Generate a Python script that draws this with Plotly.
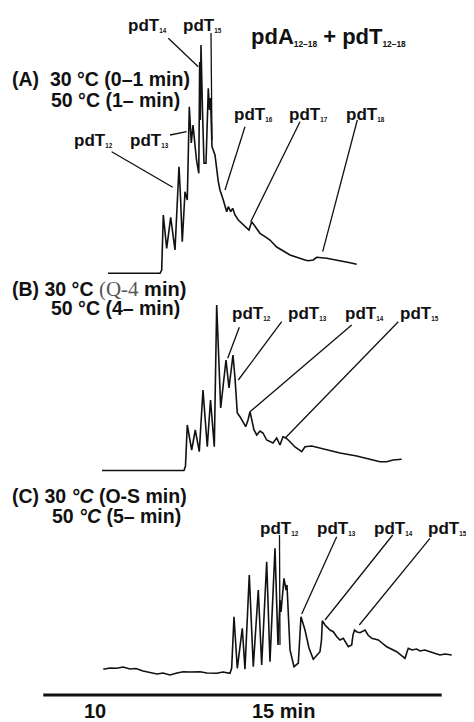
import plotly.graph_objects as go

# ---------------- DATA (retention time in min, detector signal in arbitrary units) ----------------
# Panel (A): 30 °C (0-1 min), 50 °C (1- min)
a_time = [10.387, 11.935, 11.985, 12.033, 12.134, 12.253, 12.381, 12.500, 12.539, 12.598,
          12.679, 12.747, 12.807, 12.866, 12.917, 13.021, 13.089, 13.116, 13.134, 13.155,
          13.199, 13.244, 13.304, 13.372, 13.408, 13.438, 13.482, 13.571, 13.670, 13.720,
          13.818, 13.869, 13.920, 13.967, 14.039, 14.098, 14.167, 14.265, 14.366, 14.515,
          14.583, 14.664, 14.762, 14.911, 15.060, 15.208, 15.408, 15.804, 16.250, 16.348,
          16.497, 16.598, 16.896, 17.193, 17.589, 17.789]
a_signal = [0, 0, 3.3, 58.3, 25, 56, 23.3, 106.6, 81.3, 31.6,
            81.6, 73.3, 166.6, 130.3, 148.3, 113.3, 100, 211.3, 153.3, 228.3,
            163.3, 110, 110, 185, 163.3, 175.3, 126.6, 118.3, 91.6, 83.3,
            73.3, 66.6, 61.6, 66.6, 61.6, 65, 58.3, 53.3, 50, 45,
            43.3, 51.6, 46.6, 40, 36.6, 33.3, 26.3, 18.3, 13.3, 12.6,
            13.3, 16, 15, 13.3, 10.6, 9]

# Panel (B): 30 °C (0-4 min), 50 °C (4- min)
b_time = [10.208, 12.649, 12.693, 12.747, 12.878, 12.985, 13.104, 13.214, 13.342, 13.438,
          13.551, 13.622, 13.741, 13.899, 13.988, 14.107, 14.167, 14.235, 14.315, 14.396,
          14.485, 14.554, 14.613, 14.732, 14.813, 14.911, 15.000, 15.110, 15.208, 15.298,
          15.408, 15.506, 15.595, 15.685, 15.804, 15.952, 16.152, 16.250, 16.449, 16.896,
          17.292, 17.789, 18.185, 18.482, 18.682, 18.869, 19.128]
b_signal = [0, 0, 4.5, 45.5, 20.5, 40.5, 18.8, 80.5, 23.8, 70.5,
            23.8, 165.5, 62.5, 110.5, 82.5, 115.5, 92.5, 57.5, 53.8, 48.8,
            43.8, 50.5, 58.8, 40.5, 35.5, 39.5, 37.5, 30.5, 28.5, 27.5,
            32.5, 25.5, 33.8, 32.5, 28.8, 23.5, 18.8, 23.8, 24.5, 20.5,
            17.5, 14.5, 11.5, 8.8, 8.8, 10.5, 11.2]

# Panel (C): 30 °C (0-5 min), 50 °C (5- min)
c_time = [10.247, 10.446, 10.646, 10.833, 11.042, 11.220, 11.429, 11.637, 11.845, 12.024,
          12.232, 12.440, 12.628, 12.827, 13.125, 13.333, 13.622, 13.810, 14.018, 14.068,
          14.137, 14.235, 14.384, 14.464, 14.592, 14.711, 14.860, 14.961, 15.110, 15.208,
          15.357, 15.446, 15.506, 15.536, 15.625, 15.685, 15.714, 15.804, 15.923, 16.051,
          16.131, 16.250, 16.369, 16.497, 16.607, 16.696, 16.741, 16.765, 16.845, 16.994,
          17.092, 17.202, 17.292, 17.390, 17.539, 17.640, 17.679, 17.723, 17.798, 17.887,
          18.036, 18.125, 18.235, 18.432, 18.542, 18.682, 18.979, 19.226, 19.286, 19.324,
          19.435, 19.574, 19.673, 19.821, 19.970, 20.119, 20.268, 20.417, 20.616]
c_signal = [2.7, 4, 3.7, 5, 3, 3.5, 1, -0.7, -2, -1,
            -3, -1, 0.3, 0, 0.3, -1, -1.3, 0, -1.3, 4,
            55.3, 3.7, 43.7, 2.7, 97, 5.3, 82, 7, 110.3, 10.3,
            123.7, 27, 72, 60, 93.7, 82, 87, 22, 5.3, 9,
            55.3, 42, 24, 12.7, 17, 20.3, 32, 51.3, 47, 42,
            40.3, 35, 32, 33.7, 25.3, 27, 37, 42, 40, 39.3,
            42, 37, 33.7, 32, 29, 25.3, 20.3, 13.7, 20, 23.7,
            22, 23, 21, 22, 20.3, 19, 17, 18, 17]

# Peak labels (oligomer lengths) per panel
a_peaks = ["12", "13", "14", "15", "16", "17", "18"]
b_peaks = ["12", "13", "14", "15"]
c_peaks = ["12", "13", "14", "15"]

# Leader-line targets on the traces (time, signal) per labelled peak
a_target_t = [12.313, 12.729, 13.074, 13.482, 13.869, 14.634, 16.777]
a_target_s = [86.0, 141.6, 206.6, 133.3, 83.3, 51.6, 21.6]
b_target_t = [13.949, 14.265, 14.613, 15.655]
b_target_s = [112.2, 90.5, 58.8, 32.2]
c_target_t = [15.506, 16.152, 16.845, 17.866]
c_target_s = [27.0, 58.0, 52.0, 47.0]

# Time-scale bar tick labels
scale_ticks = [10, 15]
scale_text = ["10", "15 min"]

# ---------------- LAYOUT ----------------
# the page body keeps its default 8 px margin, so the figure is 8 px smaller
X_RANGE = [7.411, 21.280]
Y_RANGE = [0, 714]
BASE = {"A": 448.7, "B": 251.5, "C": 50.0}
INK = "#111111"
FONT = "Liberation Sans, Arial, Helvetica, sans-serif"
COND_SIZE = 19.5

fig = go.Figure()
for key, t, s in (("A", a_time, a_signal), ("B", b_time, b_signal), ("C", c_time, c_signal)):
    fig.add_trace(go.Scatter(
        x=t, y=[BASE[key] + v for v in s], mode="lines",
        line=dict(color=INK, width=1.6, shape="linear"),
        hoverinfo="skip", showlegend=False))

shapes = []
annotations = []


def lbl(text, x, y, size=17, xanchor="center", yanchor="middle"):
    annotations.append(dict(
        text=text, x=x, y=y, xref="x", yref="y", showarrow=False,
        xanchor=xanchor, yanchor=yanchor,
        font=dict(family=FONT, size=size, color=INK)))


def pd_label(n):
    return f"<b>pdT<span style='font-size:9px'><sub>{n}</sub></span></b>"


def leader(t0, s0, t1, s1, base):
    shapes.append(dict(type="line", xref="x", yref="y",
                       x0=t0, y0=base + s0, x1=t1, y1=base + s1,
                       line=dict(color=INK, width=1.3)))


# Panel A labels
a_label_t = [9.955, 11.637, 11.548, 13.199, 14.717, 16.354, 18.036]
a_label_s = [133.3, 133.3, 248.3, 248.3, 159.3, 159.3, 159.3]
a_lead_t = [10.497, 12.232, 12.182, 13.452, 14.464, 16.101, 17.807]
a_lead_s = [121.6, 138.3, 235.0, 240.3, 146.6, 151.6, 153.3]
for i, n in enumerate(a_peaks):
    lbl(pd_label(n), a_label_t[i], BASE["A"] + a_label_s[i])
    leader(a_lead_t[i], a_lead_s[i], a_target_t[i], a_target_s[i], BASE["A"])

lbl("<b>pdA<span style='font-size:12px'><sub>12–18</sub></span> + pdT<span style='font-size:12px'><sub>12–18</sub></span></b>",
    16.964, BASE["A"] + 237.3, size=22)
lbl("<b>(A)  30 °C (0–1 min)</b>", 7.470, BASE["A"] + 194.3, size=COND_SIZE, xanchor="left")
lbl("<b>50 °C (1– min)</b>", 8.631, BASE["A"] + 173.3, size=COND_SIZE, xanchor="left")

# Panel B labels
b_label_t = [14.643, 16.339, 18.021, 19.658]
b_lead_t = [14.295, 15.557, 17.640, 19.027]
b_lead_s = [143.2, 148.8, 145.5, 148.8]
for i, n in enumerate(b_peaks):
    lbl(pd_label(n), b_label_t[i], BASE["B"] + 157.5)
    leader(b_lead_t[i], b_lead_s[i], b_target_t[i], b_target_s[i], BASE["B"])

lbl("<b>(B) 30 °C </b><span style='font-family:Liberation Serif, Times New Roman, serif;font-weight:normal;color:#555555;font-size:21px'>(Q-4</span><b><span style='font-size:20px'> min)</span></b>",
    7.470, BASE["B"] + 182.0, size=COND_SIZE, xanchor="left")
lbl("<b>50 °C (4– min)</b>", 8.631, BASE["B"] + 162.5, size=COND_SIZE, xanchor="left")

# Panel C labels
c_label_t = [15.506, 17.188, 18.884, 20.480]
c_lead_t = [15.491, 17.193, 18.860, 19.970]
c_lead_s = [137.0, 135.3, 137.0, 133.7]
for i, n in enumerate(c_peaks):
    lbl(pd_label(n), c_label_t[i], BASE["C"] + 144.0)
    leader(c_lead_t[i], c_lead_s[i], c_target_t[i], c_target_s[i], BASE["C"])

lbl("<b>(C) 30 <i>°C</i> (O-S min)</b>", 7.470, BASE["C"] + 176.0, size=COND_SIZE, xanchor="left")
lbl("<b>50 <i>°C</i> (5– min)</b>", 8.661, BASE["C"] + 156.0, size=COND_SIZE, xanchor="left")

# Time-scale bar
shapes.append(dict(type="line", xref="x", yref="y", x0=8.461, x1=20.318, y0=27, y1=27,
                   line=dict(color=INK, width=3)))
lbl("<b>" + scale_text[0] + "</b>", scale_ticks[0], 11, size=20)
lbl("<b>" + scale_text[1] + "</b>", scale_ticks[1] - 0.39, 11, size=20, xanchor="left")

fig.update_layout(
    width=466, height=714,
    margin=dict(l=0, r=0, t=0, b=0),
    paper_bgcolor="white", plot_bgcolor="white",
    xaxis=dict(range=X_RANGE, visible=False, fixedrange=True),
    yaxis=dict(range=Y_RANGE, visible=False, fixedrange=True),
    shapes=shapes, annotations=annotations, showlegend=False,
)

fig.write_html("out.html")
